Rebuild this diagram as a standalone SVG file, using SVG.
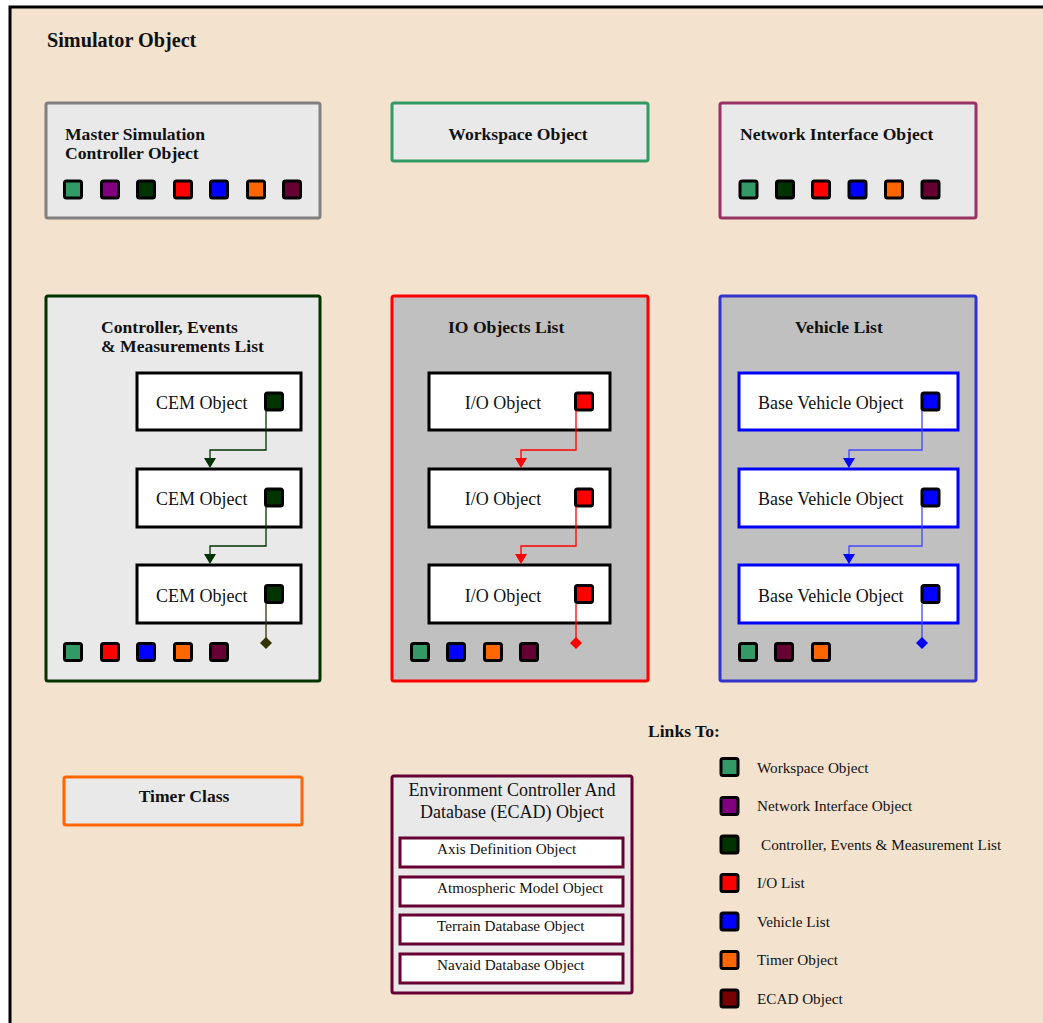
<svg xmlns="http://www.w3.org/2000/svg" width="1043" height="1023" viewBox="0 0 1043 1023">
<defs>
<style>
.t{font-family:"Liberation Serif","Times New Roman",serif;fill:#111}
.b{font-weight:bold;font-size:17.6px}
.r{font-size:18px}
.s{font-size:15.2px}
.sq{stroke:#000;stroke-width:3}
.box{fill:#E9E9E9;stroke-width:3}
.inner{fill:#fff;stroke-width:3}
</style>
<marker id="aG" markerWidth="12" markerHeight="10" refX="6" refY="0" markerUnits="userSpaceOnUse" viewBox="0 0 12 10"><path d="M0,0 L12,0 L6,10 Z" fill="#003300"/></marker>
<marker id="aR" markerWidth="12" markerHeight="10" refX="6" refY="0" markerUnits="userSpaceOnUse" viewBox="0 0 12 10"><path d="M0,0 L12,0 L6,10 Z" fill="#FF0000"/></marker>
<marker id="aB" markerWidth="12" markerHeight="10" refX="6" refY="0" markerUnits="userSpaceOnUse" viewBox="0 0 12 10"><path d="M0,0 L12,0 L6,10 Z" fill="#0000FF"/></marker>
</defs>
<rect x="0" y="0" width="1043" height="1023" fill="#fff"/>
<rect id="simulator" x="10" y="7" width="1050" height="1030" fill="#F2E2CE" stroke="#000" stroke-width="3"/>
<text class="t" x="47" y="47" font-size="20.2" font-weight="bold">Simulator Object</text>

<g id="master">
<rect class="box" x="46" y="103" width="274" height="115" rx="2" stroke="#808080"/>
<text class="t b" x="65" y="140">Master Simulation</text>
<text class="t b" x="65" y="159">Controller Object</text>
<rect class="sq" x="64.5" y="181" width="17" height="17" rx="2" fill="#339966"/>
<rect class="sq" x="101.5" y="181" width="17" height="17" rx="2" fill="#800080"/>
<rect class="sq" x="137.5" y="181" width="17" height="17" rx="2" fill="#003300"/>
<rect class="sq" x="174.5" y="181" width="17" height="17" rx="2" fill="#FF0000"/>
<rect class="sq" x="210.5" y="181" width="17" height="17" rx="2" fill="#0000FF"/>
<rect class="sq" x="247.5" y="181" width="17" height="17" rx="2" fill="#FF6600"/>
<rect class="sq" x="283.5" y="181" width="17" height="17" rx="2" fill="#660033"/>
</g>

<g id="workspace">
<rect class="box" x="392" y="103" width="256" height="58" rx="2" stroke="#339966"/>
<text class="t b" x="518" y="140" text-anchor="middle">Workspace Object</text>
</g>

<g id="network">
<rect class="box" x="720" y="103" width="256" height="115" rx="2" stroke="#993366"/>
<text class="t b" x="740" y="140">Network Interface Object</text>
<rect class="sq" x="740" y="181" width="17" height="17" rx="2" fill="#339966"/>
<rect class="sq" x="776.5" y="181" width="17" height="17" rx="2" fill="#003300"/>
<rect class="sq" x="812.5" y="181" width="17" height="17" rx="2" fill="#FF0000"/>
<rect class="sq" x="849" y="181" width="17" height="17" rx="2" fill="#0000FF"/>
<rect class="sq" x="885.5" y="181" width="17" height="17" rx="2" fill="#FF6600"/>
<rect class="sq" x="922" y="181" width="17" height="17" rx="2" fill="#660033"/>
</g>

<g id="cem-list">
<rect class="box" x="46" y="296" width="274" height="385" rx="2" stroke="#003300"/>
<text class="t b" x="101" y="333">Controller, Events</text>
<text class="t b" x="101" y="352">&amp; Measurements List</text>
<rect class="sq" x="64.5" y="643.5" width="17" height="17" rx="2" fill="#339966"/>
<rect class="sq" x="101.5" y="643.5" width="17" height="17" rx="2" fill="#FF0000"/>
<rect class="sq" x="137.5" y="643.5" width="17" height="17" rx="2" fill="#0000FF"/>
<rect class="sq" x="174.5" y="643.5" width="17" height="17" rx="2" fill="#FF6600"/>
<rect class="sq" x="210.5" y="643.5" width="17" height="17" rx="2" fill="#660033"/>
</g>
<g id="cem1">
<rect class="inner" x="137" y="373" width="164" height="57" stroke="#000"/>
<text class="t r" x="156" y="409">CEM Object</text>
<rect class="sq" x="265.5" y="393" width="17" height="17" rx="2" fill="#003300"/>
</g>
<g id="cem2">
<rect class="inner" x="137" y="469" width="164" height="58" stroke="#000"/>
<text class="t r" x="156" y="505">CEM Object</text>
<rect class="sq" x="265.5" y="489" width="17" height="17" rx="2" fill="#003300"/>
</g>
<g id="cem3">
<rect class="inner" x="137" y="565" width="164" height="58" stroke="#000"/>
<text class="t r" x="156" y="602">CEM Object</text>
<rect class="sq" x="265.5" y="585.5" width="17" height="17" rx="2" fill="#003300"/>
</g>

<g id="io-list">
<rect x="392" y="296" width="256" height="385" rx="2" fill="#C0C0C0" stroke="#FF0000" stroke-width="3"/>
<text class="t b" x="448" y="333">IO Objects List</text>
<rect class="sq" x="411.5" y="643.5" width="17" height="17" rx="2" fill="#339966"/>
<rect class="sq" x="447.5" y="643.5" width="17" height="17" rx="2" fill="#0000FF"/>
<rect class="sq" x="484.5" y="643.5" width="17" height="17" rx="2" fill="#FF6600"/>
<rect class="sq" x="520.5" y="643.5" width="17" height="17" rx="2" fill="#660033"/>
</g>
<g id="io1">
<rect class="inner" x="429" y="373" width="181" height="57" stroke="#000"/>
<text class="t r" x="503" y="409" text-anchor="middle">I/O Object</text>
<rect class="sq" x="575.5" y="393" width="17" height="17" rx="2" fill="#FF0000"/>
</g>
<g id="io2">
<rect class="inner" x="429" y="469" width="181" height="58" stroke="#000"/>
<text class="t r" x="503" y="505" text-anchor="middle">I/O Object</text>
<rect class="sq" x="575.5" y="489" width="17" height="17" rx="2" fill="#FF0000"/>
</g>
<g id="io3">
<rect class="inner" x="429" y="565" width="181" height="58" stroke="#000"/>
<text class="t r" x="503" y="602" text-anchor="middle">I/O Object</text>
<rect class="sq" x="575.5" y="585.5" width="17" height="17" rx="2" fill="#FF0000"/>
</g>

<g id="vehicle-list">
<rect x="720" y="296" width="256" height="385" rx="2" fill="#C0C0C0" stroke="#3333CC" stroke-width="3"/>
<text class="t b" x="795" y="333">Vehicle List</text>
<rect class="sq" x="739.5" y="643.5" width="17" height="17" rx="2" fill="#339966"/>
<rect class="sq" x="775.5" y="643.5" width="17" height="17" rx="2" fill="#660033"/>
<rect class="sq" x="812.5" y="643.5" width="17" height="17" rx="2" fill="#FF6600"/>
</g>
<g id="veh1">
<rect class="inner" x="739" y="373" width="219" height="57" stroke="#0000FF"/>
<text class="t r" x="758" y="409">Base Vehicle Object</text>
<rect class="sq" x="922" y="393" width="17" height="17" rx="2" fill="#0000FF"/>
</g>
<g id="veh2">
<rect class="inner" x="739" y="469" width="219" height="58" stroke="#0000FF"/>
<text class="t r" x="758" y="505">Base Vehicle Object</text>
<rect class="sq" x="922" y="489" width="17" height="17" rx="2" fill="#0000FF"/>
</g>
<g id="veh3">
<rect class="inner" x="739" y="565" width="219" height="58" stroke="#0000FF"/>
<text class="t r" x="758" y="602">Base Vehicle Object</text>
<rect class="sq" x="922" y="585.5" width="17" height="17" rx="2" fill="#0000FF"/>
</g>

<g id="connectors" fill="none" stroke-width="1.3">
<path d="M266,411 V450 H210 V458" stroke="#003300" marker-end="url(#aG)"/>
<path d="M266,507 V546 H210 V554" stroke="#003300" marker-end="url(#aG)"/>
<path d="M266,604 V643" stroke="#333300"/>
<path d="M576,411 V450 H521 V458" stroke="#FF0000" marker-end="url(#aR)"/>
<path d="M576,507 V546 H521 V554" stroke="#FF0000" marker-end="url(#aR)"/>
<path d="M576,604 V643" stroke="#FF0000"/>
<path d="M922,411 V450 H849 V458" stroke="#4444FF" marker-end="url(#aB)"/>
<path d="M922,507 V546 H849 V554" stroke="#4444FF" marker-end="url(#aB)"/>
<path d="M922,604 V643" stroke="#4444FF"/>
<path d="M266,637 L272,643 L266,649 L260,643 Z" fill="#333300" stroke="none"/>
<path d="M576,637 L582,643 L576,649 L570,643 Z" fill="#FF0000" stroke="none"/>
<path d="M922,637 L928,643 L922,649 L916,643 Z" fill="#0000FF" stroke="none"/>
</g>

<g id="timer">
<rect class="box" x="64" y="777" width="238" height="48" rx="2" stroke="#FF6600"/>
<text class="t b" x="184" y="802" text-anchor="middle">Timer Class</text>
</g>

<g id="ecad">
<rect class="box" x="392" y="776" width="240" height="217" rx="2" stroke="#660033"/>
<text class="t r" x="512" y="796" text-anchor="middle">Environment Controller And</text>
<text class="t r" x="512" y="818" text-anchor="middle">Database (ECAD) Object</text>
<rect class="inner" x="400" y="838" width="223" height="29" stroke="#660033"/>
<text class="t s" x="437" y="854">Axis Definition Object</text>
<rect class="inner" x="400" y="877" width="223" height="29" stroke="#660033"/>
<text class="t s" x="437" y="893">Atmospheric Model Object</text>
<rect class="inner" x="400" y="915" width="223" height="29" stroke="#660033"/>
<text class="t s" x="437" y="931">Terrain Database Object</text>
<rect class="inner" x="400" y="954" width="223" height="29" stroke="#660033"/>
<text class="t s" x="437" y="970">Navaid Database Object</text>
</g>

<g id="legend">
<text class="t b" x="648" y="737">Links To:</text>
<rect class="sq" x="721" y="758.5" width="17" height="17" rx="2" fill="#339966"/>
<text class="t s" x="757" y="773">Workspace Object</text>
<rect class="sq" x="721" y="797.5" width="17" height="17" rx="2" fill="#800080"/>
<text class="t s" x="757" y="811">Network Interface Object</text>
<rect class="sq" x="721" y="836" width="17" height="17" rx="2" fill="#003300"/>
<text class="t s" x="761" y="850">Controller, Events &amp; Measurement List</text>
<rect class="sq" x="721" y="874.5" width="17" height="17" rx="2" fill="#FF0000"/>
<text class="t s" x="757" y="888">I/O List</text>
<rect class="sq" x="721" y="913" width="17" height="17" rx="2" fill="#0000FF"/>
<text class="t s" x="757" y="927">Vehicle List</text>
<rect class="sq" x="721" y="951.5" width="17" height="17" rx="2" fill="#FF6600"/>
<text class="t s" x="757" y="965">Timer Object</text>
<rect class="sq" x="721" y="990" width="17" height="17" rx="2" fill="#770000"/>
<text class="t s" x="757" y="1004">ECAD Object</text>
</g>
</svg>
